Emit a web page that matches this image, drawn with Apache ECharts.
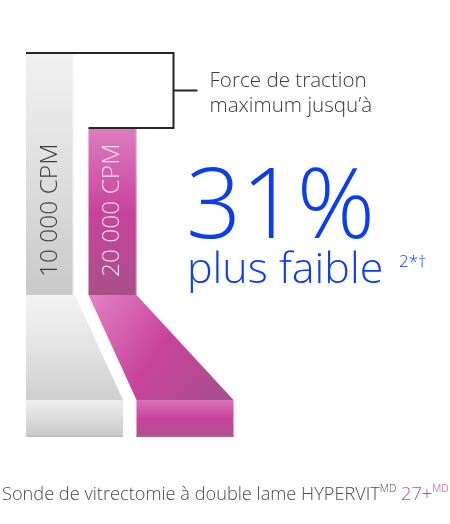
<!DOCTYPE html>
<html><head><meta charset="utf-8">
<script src="https://cdn.jsdelivr.net/npm/echarts@6.0.0/dist/echarts.min.js"></script>
<style>html,body{margin:0;padding:0;background:#fff}#c{width:450px;height:524px}</style>
</head><body><div id="c"></div>
<script>
// ---- data ----
const categories = ['10 000 CPM', '20 000 CPM'];
const forceValues = [100, 69];
const reductionText = '31%';
const reductionCaption = 'plus faible';
const reductionNote = '2*†';
const bracketLabel = ['Force de traction', 'maximum jusqu’à'];
const productName = 'Sonde de vitrectomie à double lame HYPERVIT';
const productModel = '27+';
const markSup = 'MD';

// ---- styling / layout ----
const FONT = '"Open Sans", "Noto Sans", sans-serif';
const BLUE = '#0b3df0';
const PINK = '#c8409c';
const BAR_W = 48;
const BLOCK_W = 97;
const SLANT_TO = -43.4;
const BLOCK_TO = -58.7;

function lg(x, y, x2, y2, stops) {
  return new echarts.graphic.LinearGradient(x, y, x2, y2,
    stops.map((c, k) => ({offset: k / (stops.length - 1), color: c})));
}

function renderBar(params, api) {
  const i = api.value(0);
  const v = api.value(1);
  const topP = api.coord([i, v]);
  const baseY = api.coord([i, 0])[1];
  const slantY = api.coord([i, SLANT_TO])[1];
  const blockY = api.coord([i, BLOCK_TO])[1];
  const cx = topP[0];
  const x0 = cx - BAR_W / 2, x1 = cx + BAR_W / 2;
  const gray = i === 0;
  const children = [];
  children.push({
    type: 'rect',
    shape: {x: x0, y: topP[1], width: BAR_W, height: baseY - topP[1]},
    style: {fill: gray ? lg(0, 0, 0, 1, ['#f1f1f1', '#dedede', '#c9c9c9'])
                       : lg(0, 0, 0, 1, ['#de7cc0', '#c8439b', '#a8508a'])}
  });
  children.push({
    type: 'rect',
    shape: {x: x1 - 1.5, y: topP[1], width: 1.5, height: baseY - topP[1]},
    style: {fill: gray ? 'rgba(255,255,255,0.7)' : 'rgba(255,255,255,0.15)'}
  });
  let pts, bx;
  if (gray) {
    pts = [[x0, baseY], [x1 + 1, baseY], [x0 + BLOCK_W, slantY], [x0, slantY]];
    bx = x0;
  } else {
    pts = [[x0, baseY], [x1, baseY], [x1 + BLOCK_W, slantY], [x1, slantY]];
    bx = x1;
  }
  children.push({
    type: 'polygon',
    shape: {points: pts},
    style: {fill: gray ? lg(0, 0, 0, 1, ['#f3f3f3', '#e3e3e3', '#cfcfcf'])
                       : lg(0, 0, 1, 1, ['#e283c4', '#c8439b', '#a5508a'])}
  });
  children.push({
    type: 'rect',
    shape: {x: bx, y: slantY, width: BLOCK_W, height: blockY - slantY},
    style: {fill: gray ? lg(0, 0, 0, 1, ['#eeeeee', '#dcdcdc', '#c8c8c8'])
                       : lg(0, 0, 0, 1, ['#d872b8', '#c8439b', '#b0508e'])}
  });
  children.push({
    type: 'rect',
    shape: {x: bx, y: blockY - 1.5, width: BLOCK_W, height: 1.5},
    style: {fill: gray ? '#bdbdbd' : '#b9619a'}
  });
  children.push({
    type: 'text',
    x: cx, y: baseY - 18,
    rotation: Math.PI / 2,
    style: {
      text: categories[i],
      fill: gray ? '#3c3c3c' : '#f7dcef',
      font: '300 24.5px ' + FONT,
      align: 'left', verticalAlign: 'middle'
    }
  });
  return {type: 'group', children};
}

function renderBracket(params, api) {
  const g = api.coord([0, forceValues[0]]);
  const p = api.coord([1, forceValues[1]]);
  const gLeft = g[0] - BAR_W / 2;
  const pLeft = p[0] - BAR_W / 2;
  const bx = p[0] + BAR_W / 2 + 37;
  const midY = (g[1] + p[1]) / 2;
  const ls = {stroke: '#262626', lineWidth: 2};
  return {type: 'group', children: [
    {type: 'polyline', shape: {points: [[gLeft, g[1]], [bx, g[1]], [bx, p[1]], [pLeft, p[1]]]}, style: Object.assign({fill: null}, ls)},
    {type: 'line', shape: {x1: bx, y1: midY, x2: bx + 24, y2: midY}, style: ls},
    {type: 'text', x: bx + 36, y: midY + 3,
     style: {text: bracketLabel.join('\n'), fill: '#3a3a3a', font: '300 20.6px ' + FONT,
             lineHeight: 25, align: 'left', verticalAlign: 'middle'}}
  ]};
}

const chart = echarts.init(document.getElementById('c'), null, {renderer: 'canvas'});
chart.setOption({
  animation: false,
  grid: {left: 18.75, width: 125, top: 53, height: 387.2},
  xAxis: {type: 'category', data: categories, show: false},
  yAxis: {type: 'value', min: -60, max: 100, show: false},
  series: [
    {type: 'custom', renderItem: renderBar,
     data: forceValues.map((v, i) => [i, v]), encode: {x: 0, y: 1}},
    {type: 'custom', renderItem: renderBracket, data: [[1, forceValues[1]]], encode: {x: 0, y: 1}, z: 3}
  ],
  graphic: [
    {type: 'text', left: 186, top: 162,
     style: {text: reductionText, fill: BLUE, font: '300 97px ' + FONT}},
    {type: 'text', left: 187, top: 249,
     style: {text: reductionCaption, fill: BLUE, font: '300 43px ' + FONT}},
    {type: 'text', left: 399, top: 254,
     style: {text: reductionNote, fill: BLUE, font: '300 17px ' + FONT}},
    {type: 'text', left: 2, top: 484,
     style: {
       text: productName + '{s|' + markSup + '} {p|' + productModel + '}{ps|' + markSup + '}',
       fill: '#4a4a4a', font: '300 18.2px ' + FONT, lineHeight: 22, verticalAlign: 'top',
       rich: {
         s: {fontSize: 10.5, fontWeight: 300, fontFamily: FONT, fill: '#4a4a4a', lineHeight: 14, verticalAlign: 'top'},
         p: {fontSize: 18.2, fontWeight: 300, fontFamily: FONT, fill: PINK, lineHeight: 22},
         ps: {fontSize: 10.5, fontWeight: 300, fontFamily: FONT, fill: PINK, lineHeight: 14, verticalAlign: 'top'}
       }
     }}
  ]
});
</script>
</body></html>
